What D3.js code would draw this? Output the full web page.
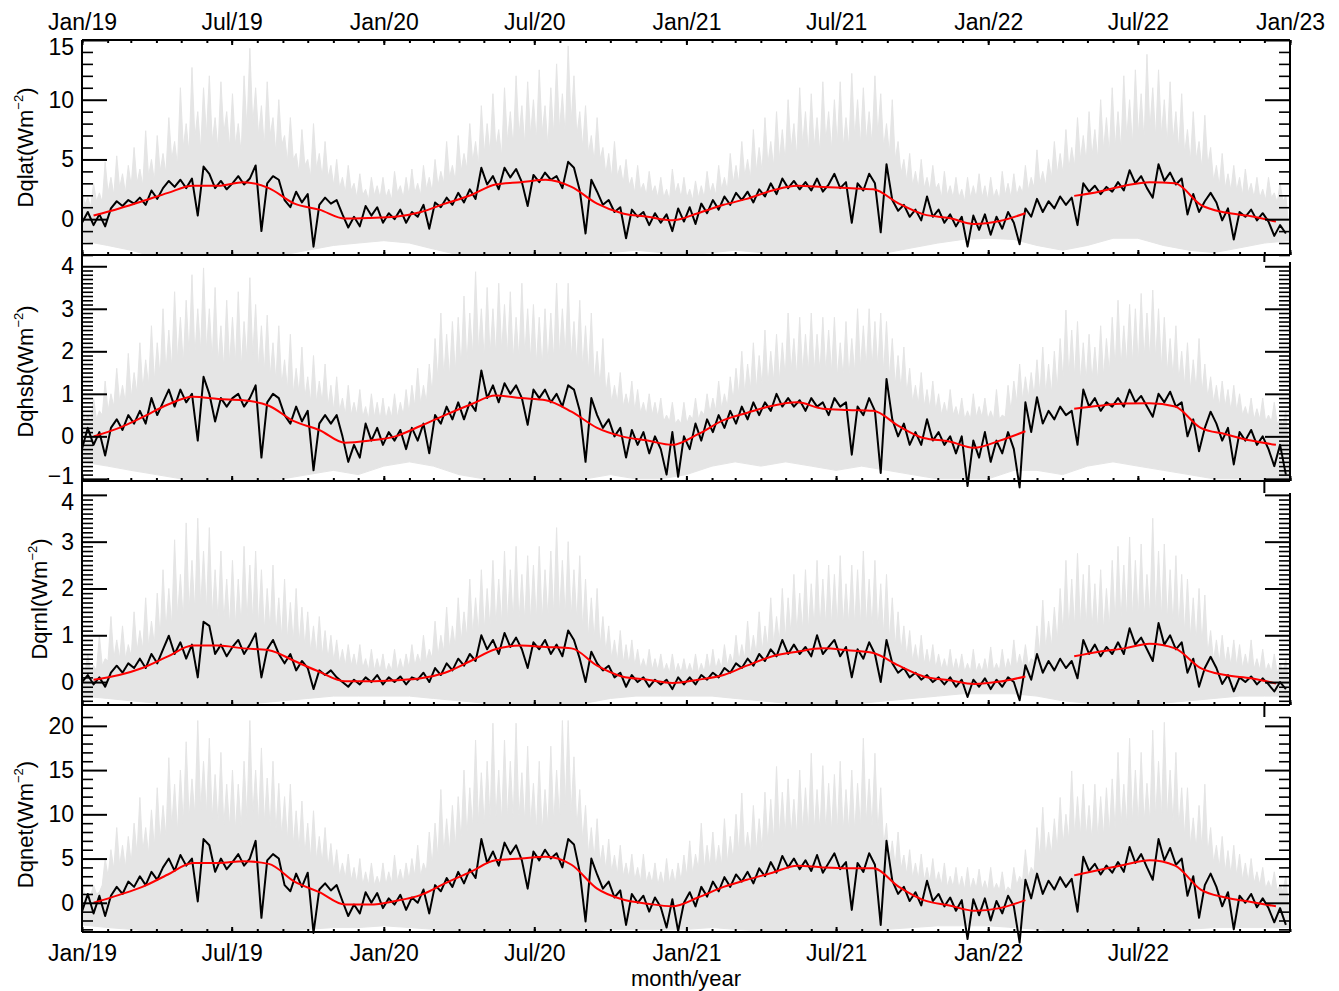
<!DOCTYPE html>
<html>
<head>
<meta charset="utf-8">
<script src="https://cdn.jsdelivr.net/npm/d3@7"></script>
<style>
  body { margin: 0; background: #fff; }
  text { font-family: "Liberation Sans", Arial, Helvetica, sans-serif; fill: #000; }
</style>
</head>
<body>
<div id="chart"></div>
<script>
// x tick labels (every six months)
const monthLabels = ['Jan/19', 'Jul/19', 'Jan/20', 'Jul/20', 'Jan/21', 'Jul/21', 'Jan/22', 'Jul/22', 'Jan/23'];

// ---- Dqlat ----
// weekly series (black), from 1 Jan 2019
const dqlatWeekly = [
  -0.3, 0.6, -0.5, 0.4, -0.6, 0.9, 1.5, 1.1, 1.6, 1.3,
  1.8, 1.2, 2.4, 1.7, 2.6, 3.2, 2.7, 3.3, 2.6, 3.4,
  0.3, 4.4, 3.8, 2.6, 3.2, 2.5, 3.0, 3.6, 2.9, 3.4,
  4.5, -1.0, 3.0, 3.6, 3.3, 1.6, 1.0, 2.3, 1.4, 2.1,
  -2.3, 1.2, 1.8, 1.3, 1.6, 0.4, -0.7, 0.2, -0.6, 1.1,
  0.3, 1.0, -0.3, 0.5, 0.0, 0.8, -0.3, 0.6, 0.2, 1.2,
  -0.8, 1.4, 1.0, 1.8, 1.2, 2.2, 1.4, 2.5, 1.7, 4.3,
  2.9, 3.6, 2.5, 4.3, 3.5, 4.2, 3.1, 1.1, 3.7, 3.1,
  3.9, 3.3, 3.6, 2.6, 4.8, 4.3, 2.4, -1.2, 3.3, 2.3,
  1.2, 1.6, 0.6, 1.0, -1.6, 0.8, 0.2, 0.6, -0.5, 0.5,
  -0.3, 0.4, -1.0, 0.9, -0.2, 1.0, -0.4, 1.3, 0.5, 1.6,
  0.8, 1.9, 1.2, 2.2, 1.6, 2.3, 1.4, 2.5, 1.9, 3.0,
  2.1, 3.4, 2.6, 3.2, 2.5, 3.1, 2.4, 3.4, 2.3, 2.9,
  3.8, 2.6, 3.1, -0.3, 3.0, 2.4, 3.8, 3.0, -1.1, 4.6,
  1.6, 0.7, 1.2, 0.2, 0.8, -0.1, 1.9, 0.2, 0.8, -0.3,
  0.4, -0.6, 0.2, -2.3, 0.3, -0.9, 0.4, -1.3, 0.2, -0.8,
  0.6, -0.3, -2.1, 0.9, 0.2, 1.7, 0.6, 1.5, 0.9, 1.9,
  1.2, 1.8, -0.5, 3.0, 2.3, 2.8, 2.1, 2.7, 2.3, 3.1,
  2.4, 4.1, 3.0, 3.6, 2.6, 1.8, 4.6, 3.2, 3.9, 2.9,
  3.4, 0.4, 2.1, 0.6, 1.5, 2.2, 1.4, -0.1, 0.9, -1.7,
  0.6, 0.2, 0.8, -0.1, 0.5, -0.2, -1.4, -0.5, -1.2
];
// running mean (red), mid-month, Jan 2019 - Dec 2022
const dqlatSmooth = [
  0.3, 0.9, 1.5, 2.2, 2.8, 2.8, 3.1, 2.6, 1.3, 0.8, 0.05, 0.1,
  0.2, 0.6, 1.3, 2.0, 2.9, 3.1, 3.3, 2.7, 1.3, 0.5, 0.2, -0.1,
  0.5, 1.2, 1.7, 2.4, 2.8, 2.7, 2.6, 2.5, 1.3, 0.4, 0.1, -0.4,
  -0.15, 0.5, null, 1.95, 2.3, 2.8, 3.1, 3.0, 1.2, 0.55, 0.25, -0.2
];
// spread of the raw data (gray): peaks at each week, troughs half a week later, monthly lower edge
const dqlatPeaks = [
  2.5, 1.8, 3.0, 2.2, 4.8, 3.5, 5.3, 3.8, 4.5, 6.0, 4.2, 7.4, 5.0,
  7.0, 5.5, 8.5, 6.5, 11.0, 8.0, 12.7, 9.0, 11.0, 12.0, 8.5, 11.5, 9.0,
  10.5, 8.0, 12.0, 14.3, 11.0, 9.5, 11.5, 8.5, 10.0, 7.0, 8.5, 5.5, 7.5,
  5.0, 8.0, 5.5, 6.5, 4.5, 5.0, 3.5, 4.5, 3.0, 3.8, 2.5, 3.5, 2.8,
  3.5, 2.5, 4.0, 2.8, 3.5, 4.2, 3.0, 4.5, 3.5, 5.0, 4.0, 6.5, 4.5,
  7.0, 5.5, 8.0, 6.5, 9.5, 8.0, 10.5, 7.5, 11.0, 9.0, 12.0, 9.5, 11.5,
  10.0, 12.5, 9.5, 11.0, 13.0, 10.5, 14.5, 12.0, 9.0, 9.5, 7.0, 8.5, 6.0,
  5.5, 6.5, 4.5, 5.0, 3.5, 4.5, 3.0, 4.0, 2.8, 3.5, 2.5, 4.2, 3.0,
  3.5, 2.5, 3.2, 2.8, 4.0, 3.0, 4.5, 3.5, 5.5, 4.5, 6.5, 5.0, 7.5,
  6.0, 8.5, 6.5, 9.0, 7.5, 10.0, 8.0, 11.0, 9.0, 10.5, 8.5, 11.5, 9.0,
  10.0, 11.5, 8.5, 12.2, 10.0, 11.0, 9.0, 12.0, 10.5, 8.0, 10.0, 6.5, 5.0,
  5.5, 4.0, 5.0, 3.5, 4.5, 3.0, 4.0, 2.8, 3.5, 2.5, 3.5, 2.8, 3.8,
  2.8, 3.5, 2.5, 4.0, 3.0, 3.8, 2.8, 4.5, 3.5, 5.8, 4.0, 5.0, 6.5,
  5.5, 7.5, 6.0, 8.5, 7.0, 9.0, 7.5, 10.0, 8.5, 11.0, 9.0, 12.0, 10.0,
  12.5, 10.5, 13.8, 11.0, 12.5, 10.0, 11.5, 9.0, 10.5, 7.5, 9.0, 6.5, 8.7,
  6.0, 4.5, 5.5, 3.8, 4.5, 3.5, 4.2, 3.0, 3.5, 2.5, 3.5, 2.2, 3.0, 2.0
];
const dqlatTroughs = [
  1.2, 1.0, 1.5, 1.4, 2.2, 2.0, 2.6, 2.2, 2.8, 3.0, 2.8, 3.6, 3.2,
  4.0, 3.8, 5.0, 4.5, 6.0, 5.5, 6.8, 5.8, 7.0, 6.5, 5.8, 7.2, 6.0,
  6.2, 5.5, 7.5, 8.0, 7.0, 6.0, 7.0, 5.5, 6.2, 4.8, 5.0, 3.8, 4.5,
  3.5, 4.2, 3.5, 3.5, 2.8, 2.6, 2.2, 2.4, 1.8, 2.0, 1.6, 2.0, 1.8,
  1.8, 1.6, 2.2, 1.8, 2.0, 2.2, 2.0, 2.5, 2.3, 2.8, 3.0, 3.5, 3.2,
  4.0, 4.2, 4.8, 4.5, 5.5, 5.5, 6.0, 5.2, 6.5, 6.0, 7.0, 6.2, 7.0,
  6.5, 7.2, 6.0, 7.0, 7.5, 7.0, 8.0, 7.0, 6.0, 5.5, 4.8, 5.0, 3.8,
  3.5, 3.6, 3.0, 2.8, 2.2, 2.4, 2.0, 2.2, 1.8, 1.8, 1.6, 2.2, 1.8,
  1.8, 1.6, 1.8, 1.8, 2.2, 2.0, 2.5, 2.4, 3.0, 3.0, 3.6, 3.4, 4.0,
  4.0, 4.6, 4.4, 5.0, 4.8, 5.8, 5.2, 6.2, 5.5, 6.0, 5.5, 6.5, 5.8,
  6.2, 6.0, 6.0, 6.8, 6.2, 6.5, 6.2, 7.0, 6.0, 5.5, 5.0, 3.8, 3.2,
  2.8, 2.6, 2.6, 2.4, 2.5, 1.8, 2.0, 1.8, 1.8, 1.5, 1.8, 1.8, 1.8,
  1.6, 1.8, 1.6, 2.0, 1.8, 2.0, 2.2, 2.4, 2.6, 3.0, 2.8, 3.4, 3.8,
  3.8, 4.2, 4.4, 5.0, 4.8, 5.2, 5.0, 5.8, 5.5, 6.0, 5.8, 6.8, 6.2,
  7.0, 6.5, 7.5, 6.8, 7.0, 6.2, 6.5, 5.8, 5.5, 4.8, 5.0, 4.2, 4.5,
  3.2, 2.8, 2.6, 2.4, 2.4, 2.0, 2.2, 1.8, 1.8, 1.6, 1.8, 1.4, 1.5
];
const dqlatLow = [
  -1.8, -2.2, -2.6, -3.2, -3.2, -3.2, -3.2, -3.2, -3.0, -2.6, -2.2, -2.0,
  -1.8, -2.0, -2.5, -3.0, -3.2, -3.2, -3.2, -3.2, -3.0, -2.8, -2.6, -2.8,
  -3.0, -2.8, -2.6, -2.8, -3.0, -3.2, -3.2, -3.2, -2.8, -2.4, -2.0, -1.7,
  -1.6, -1.7, -2.2, -2.6, -2.2, -1.6, -1.6, -2.2, -2.6, -2.8, -2.4, -2.0, -1.8
];

// ---- Dqhsb ----
const dqhsbWeekly = [
  -0.3, 0.2, -0.2, 0.1, -0.45, 0.2, 0.4, 0.15, 0.5, 0.3,
  0.6, 0.3, 0.9, 0.5, 0.8, 1.1, 0.7, 1.1, 0.8, 1.0,
  -0.1, 1.4, 1.0, 0.35, 0.9, 0.7, 0.9, 1.0, 0.7, 0.9,
  1.2, -0.5, 0.8, 1.0, 0.9, 0.5, 0.3, 0.7, 0.35, 0.6,
  -0.8, 0.3, 0.5, 0.3, 0.5, 0.0, -0.6, -0.2, -0.5, 0.3,
  -0.1, 0.2, -0.2, 0.1, -0.1, 0.15, -0.3, 0.2, -0.1, 0.3,
  -0.4, 0.5, 0.3, 0.7, 0.4, 0.8, 0.4, 0.8, 0.6, 1.55,
  0.9, 1.2, 0.8, 1.25, 1.0, 1.2, 0.9, 0.27, 1.1, 0.9,
  1.1, 0.8, 1.0, 0.7, 1.2, 1.1, 0.6, -0.6, 0.9, 0.5,
  0.2, 0.4, 0.0, 0.2, -0.5, 0.15, -0.2, 0.1, -0.4, 0.0,
  -0.3, -0.9, 0.1, -0.95, 0.0, -0.3, 0.3, -0.1, 0.4, 0.1,
  0.5, 0.2, 0.6, 0.3, 0.7, 0.4, 0.8, 0.5, 0.8, 0.6,
  1.0, 0.7, 0.9, 0.7, 0.85, 0.6, 0.9, 0.7, 0.8, 0.5,
  0.9, 0.7, 0.8, -0.43, 0.7, 0.5, 0.9, 0.6, -0.86, 1.35,
  0.4, 0.0, 0.3, -0.2, 0.1, -0.2, 0.4, -0.1, 0.1, -0.2,
  0.0, -0.4, 0.0, -1.17, -0.1, -0.5, 0.1, -0.6, -0.1, -0.4,
  0.1, -0.3, -1.2, 0.8, 0.1, 0.92, 0.3, 0.6, 0.4, 0.7,
  0.5, 0.6, -0.2, 1.1, 0.7, 0.9, 0.6, 0.8, 0.7, 0.9,
  0.7, 1.1, 0.8, 0.95, 0.7, 0.46, 1.0, 0.8, 1.05, 0.7,
  0.8, 0.0, 0.4, -0.35, 0.2, 0.58, 0.3, -0.1, 0.2, -0.66,
  0.1, -0.1, 0.15, -0.2, 0.0, -0.3, -0.7, -0.2, -0.9
];
const dqhsbSmooth = [
  0.0, 0.2, 0.45, 0.75, 0.93, 0.88, 0.85, 0.72, 0.35, 0.15, -0.15, -0.1,
  0.0, 0.25, 0.5, 0.75, 0.96, 0.9, 0.85, 0.58, 0.2, 0.0, -0.1, -0.2,
  0.05, 0.38, 0.55, 0.72, 0.8, 0.65, 0.62, 0.6, 0.24, -0.04, -0.12, -0.27,
  -0.1, 0.12, null, 0.65, 0.72, 0.77, 0.78, 0.7, 0.2, 0.05, -0.1, -0.2
];
const dqhsbPeaks = [
  0.7, 0.5, 0.9, 0.6, 1.3, 1.0, 1.6, 1.2, 1.95, 1.5, 2.2, 1.8, 2.6,
  2.2, 3.0, 2.5, 3.4, 2.8, 3.2, 3.8, 3.0, 3.96, 3.0, 3.5, 2.6, 3.2,
  2.8, 3.4, 2.7, 3.73, 3.1, 2.6, 2.85, 2.2, 2.6, 1.8, 2.4, 1.6, 2.1,
  1.4, 1.9, 1.3, 1.7, 1.2, 1.4, 0.9, 1.2, 0.8, 1.1, 0.7, 1.0, 0.8,
  0.9, 0.7, 1.0, 0.8, 1.1, 1.2, 1.6, 1.2, 1.7, 2.3, 2.9, 2.4, 2.7,
  2.8, 3.3, 2.9, 3.87, 3.0, 3.5, 3.0, 3.6, 3.1, 3.4, 2.8, 3.6, 3.0,
  3.1, 2.8, 3.0, 2.9, 3.6, 3.0, 3.6, 2.7, 3.2, 2.6, 2.9, 2.0, 2.3,
  1.5, 1.2, 1.5, 1.0, 1.3, 1.1, 0.8, 1.0, 0.8, 0.9, 0.5, 0.8, 0.4,
  0.8, 0.5, 0.9, 0.6, 1.0, 0.9, 1.3, 1.0, 1.4, 1.6, 2.0, 1.7, 2.2,
  1.9, 2.5, 2.0, 2.4, 2.2, 2.9, 2.3, 2.8, 2.4, 2.9, 2.4, 2.8, 2.5,
  2.8, 2.2, 2.7, 2.3, 3.0, 2.6, 3.0, 2.7, 2.9, 2.7, 2.3, 1.9, 2.1,
  1.6, 1.2, 1.5, 1.1, 1.3, 1.0, 0.8, 1.1, 0.7, 0.9, 0.6, 1.0, 0.7,
  0.9, 0.6, 1.1, 0.5, 1.2, 1.3, 1.7, 1.4, 1.5, 1.8, 2.1, 1.7, 2.0,
  2.3, 2.97, 2.5, 2.7, 2.2, 2.4, 2.1, 2.6, 2.3, 2.8, 3.2, 2.6, 3.1,
  3.0, 3.36, 2.9, 3.44, 3.0, 2.8, 2.3, 2.6, 2.0, 2.2, 1.8, 2.3, 1.7,
  1.4, 1.2, 1.3, 1.1, 1.2, 1.0, 0.7, 0.9, 0.65, 0.9, 0.5, 0.8, 0.4, 0.6
];
const dqhsbTroughs = [
  0.35, 0.35, 0.4, 0.5, 0.6, 0.7, 0.8, 0.8, 0.9, 1.0, 1.1, 1.2, 1.3,
  1.4, 1.5, 1.6, 1.8, 1.7, 1.9, 1.9, 2.0, 2.0, 1.8, 1.7, 1.6, 1.7,
  1.7, 1.6, 1.8, 1.9, 1.6, 1.5, 1.4, 1.3, 1.2, 1.1, 1.0, 1.0, 0.9,
  0.8, 0.8, 0.8, 0.7, 0.6, 0.6, 0.5, 0.5, 0.5, 0.45, 0.4, 0.45, 0.4,
  0.4, 0.45, 0.45, 0.5, 0.55, 0.7, 0.75, 0.8, 1.0, 1.3, 1.4, 1.4, 1.5,
  1.6, 1.7, 1.9, 2.0, 1.8, 1.9, 1.9, 2.0, 1.9, 1.8, 1.8, 1.9, 1.8,
  1.7, 1.6, 1.7, 1.8, 1.9, 1.9, 1.8, 1.7, 1.6, 1.5, 1.3, 1.2, 1.0,
  0.8, 0.8, 0.7, 0.7, 0.6, 0.55, 0.5, 0.5, 0.45, 0.35, 0.35, 0.3, 0.3,
  0.3, 0.4, 0.4, 0.5, 0.55, 0.6, 0.65, 0.7, 0.85, 0.95, 1.0, 1.1, 1.1,
  1.2, 1.2, 1.3, 1.3, 1.4, 1.5, 1.4, 1.5, 1.5, 1.5, 1.5, 1.5, 1.5,
  1.4, 1.4, 1.4, 1.5, 1.6, 1.6, 1.6, 1.6, 1.5, 1.4, 1.2, 1.1, 1.0,
  0.8, 0.75, 0.7, 0.65, 0.6, 0.5, 0.5, 0.5, 0.45, 0.4, 0.4, 0.45, 0.45,
  0.4, 0.4, 0.4, 0.45, 0.6, 0.8, 0.85, 0.9, 0.95, 1.0, 1.0, 1.0, 1.1,
  1.3, 1.4, 1.4, 1.3, 1.3, 1.3, 1.3, 1.4, 1.5, 1.6, 1.6, 1.7, 1.7,
  1.7, 1.8, 1.8, 1.8, 1.6, 1.5, 1.4, 1.3, 1.2, 1.1, 1.1, 1.0, 0.9,
  0.8, 0.7, 0.7, 0.6, 0.6, 0.5, 0.45, 0.4, 0.4, 0.35, 0.35, 0.3, 0.3
];
const dqhsbLow = [
  -0.6, -0.7, -0.8, -0.9, -1.0, -1.1, -1.1, -1.1, -1.0, -0.9, -0.8, -0.9,
  -0.7, -0.6, -0.7, -0.9, -1.0, -1.1, -1.1, -1.1, -1.0, -0.9, -1.0, -1.0,
  -0.9, -0.7, -0.6, -0.7, -0.6, -0.7, -0.8, -0.7, -0.8, -0.9, -1.0, -1.0,
  -1.0, -0.8, -0.8, -0.9, -0.7, -0.6, -0.7, -0.8, -0.9, -1.0, -1.0, -1.1, -1.0
];

// ---- Dqrnl ----
const dqrnlWeekly = [
  0.0, 0.15, -0.05, 0.1, -0.1, 0.2, 0.35, 0.2, 0.4, 0.3,
  0.5, 0.3, 0.6, 0.4, 0.7, 0.99, 0.6, 0.85, 0.5, 0.8,
  0.1, 1.29, 1.2, 0.6, 0.8, 0.55, 0.75, 0.9, 0.6, 0.8,
  1.04, 0.1, 0.7, 0.9, 0.6, 0.4, 0.6, 0.25, 0.45, 0.3,
  -0.15, 0.25, 0.15, 0.25, 0.1, 0.0, -0.1, 0.05, -0.05, 0.1,
  0.0, 0.15, -0.05, 0.1, 0.0, 0.12, -0.05, 0.1, 0.05, 0.2,
  0.0, 0.3, 0.15, 0.4, 0.25, 0.5, 0.35, 0.6, 0.45, 1.0,
  0.7, 0.9, 0.6, 1.05, 0.75, 0.95, 0.7, 0.3, 0.85, 0.7,
  0.9, 0.6, 0.8, 0.55, 1.1, 0.9, 0.5, 0.0, 0.65, 0.4,
  0.25, 0.35, 0.1, 0.2, -0.1, 0.15, 0.0, 0.1, -0.1, 0.05,
  -0.05, 0.05, -0.15, 0.1, -0.05, 0.1, -0.05, 0.15, 0.05, 0.2,
  0.1, 0.3, 0.2, 0.4, 0.3, 0.5, 0.35, 0.6, 0.45, 0.7,
  0.55, 0.9, 0.6, 0.8, 0.6, 0.75, 0.55, 1.0, 0.6, 0.75,
  0.9, 0.55, 0.75, 0.1, 0.7, 0.5, 0.85, 0.6, 0.0, 0.9,
  0.4, 0.2, 0.3, 0.1, 0.2, 0.05, 0.15, 0.0, 0.1, -0.05,
  0.1, -0.1, 0.05, -0.32, 0.05, -0.1, 0.08, -0.15, 0.05, -0.1,
  0.1, 0.0, -0.39, 0.36, 0.05, 0.6, 0.2, 0.45, 0.25, 0.5,
  0.3, 0.45, 0.08, 0.9, 0.6, 0.8, 0.55, 0.75, 0.6, 0.85,
  0.6, 1.15, 0.8, 0.95, 0.7, 0.45, 1.26, 0.8, 1.0, 0.7,
  0.85, 0.2, 0.5, -0.1, 0.3, 0.54, 0.3, -0.04, 0.15, -0.2,
  0.1, 0.0, 0.12, -0.05, 0.08, -0.05, -0.2, 0.0, -0.15
];
const dqrnlSmooth = [
  0.05, 0.15, 0.3, 0.55, 0.78, 0.78, 0.72, 0.68, 0.45, 0.22, 0.02, 0.02,
  0.04, 0.08, 0.2, 0.45, 0.7, 0.78, 0.75, 0.72, 0.35, 0.12, 0.05, -0.02,
  0.05, 0.15, 0.35, 0.55, 0.65, 0.72, 0.68, 0.62, 0.35, 0.12, 0.04, -0.04,
  0.01, 0.12, null, 0.55, 0.65, 0.72, 0.82, 0.72, 0.3, 0.15, 0.08, -0.03
];
const dqrnlPeaks = [
  0.4, 0.6, 0.35, 1.0, 0.5, 1.4, 0.9, 1.2, 0.8, 1.5, 1.1, 1.8, 1.3,
  1.9, 2.4, 2.0, 3.04, 2.3, 3.4, 2.6, 3.5, 2.8, 3.3, 2.4, 2.8, 2.2,
  2.6, 2.2, 2.9, 2.5, 2.8, 2.4, 2.0, 2.5, 1.8, 2.2, 1.7, 2.0, 1.6,
  1.5, 1.2, 1.4, 1.1, 1.0, 0.9, 0.7, 0.8, 0.6, 0.8, 0.5, 0.7, 0.5,
  0.6, 0.4, 0.7, 0.5, 0.6, 0.8, 0.6, 1.0, 0.7, 1.3, 1.0, 1.6, 1.2,
  1.8, 1.5, 2.2, 1.8, 2.4, 2.0, 2.6, 2.2, 2.8, 2.4, 2.9, 2.3, 2.7,
  2.5, 2.9, 2.4, 2.8, 3.3, 2.6, 3.0, 2.4, 2.7, 2.2, 1.8, 2.0, 1.4,
  1.2, 0.9, 1.1, 0.8, 0.9, 0.7, 0.5, 0.7, 0.5, 0.6, 0.4, 0.6, 0.4,
  0.5, 0.4, 0.6, 0.4, 0.6, 0.7, 0.5, 0.8, 0.6, 1.0, 0.8, 1.3, 1.0,
  1.5, 1.2, 1.8, 1.4, 2.0, 1.8, 2.3, 1.9, 2.4, 2.1, 2.6, 2.2, 2.5,
  2.3, 2.7, 2.1, 2.5, 2.4, 2.8, 2.2, 2.6, 2.1, 2.3, 1.8, 1.5, 1.2,
  1.1, 0.8, 1.0, 0.7, 0.8, 0.6, 0.5, 0.7, 0.5, 0.6, 0.4, 0.7, 0.4,
  0.5, 0.75, 0.4, 0.7, 0.5, 0.9, 0.6, 0.8, 0.5, 1.2, 1.75, 1.3, 1.6,
  2.0, 2.6, 2.2, 2.75, 2.3, 2.5, 2.1, 2.4, 2.0, 2.6, 2.9, 2.5, 3.1,
  2.6, 2.95, 2.3, 3.5, 2.8, 2.95, 2.4, 2.7, 2.3, 2.2, 1.8, 2.0, 1.86,
  1.1, 0.9, 1.0, 0.75, 0.9, 0.8, 0.6, 0.9, 0.5, 0.7, 0.4, 0.6, 0.4, 0.5
];
const dqrnlTroughs = [
  0.2, 0.2, 0.25, 0.35, 0.45, 0.5, 0.5, 0.5, 0.55, 0.65, 0.7, 0.75, 0.8,
  0.95, 1.1, 1.2, 1.4, 1.3, 1.5, 1.5, 1.6, 1.5, 1.4, 1.3, 1.3, 1.2,
  1.2, 1.2, 1.3, 1.3, 1.2, 1.1, 1.1, 1.0, 0.95, 0.9, 0.85, 0.8, 0.75,
  0.65, 0.6, 0.55, 0.5, 0.45, 0.4, 0.35, 0.35, 0.3, 0.3, 0.25, 0.25, 0.25,
  0.2, 0.25, 0.25, 0.25, 0.3, 0.35, 0.4, 0.45, 0.5, 0.55, 0.65, 0.7, 0.75,
  0.85, 0.95, 1.0, 1.05, 1.1, 1.15, 1.2, 1.25, 1.3, 1.3, 1.3, 1.3, 1.3,
  1.3, 1.3, 1.35, 1.4, 1.45, 1.4, 1.35, 1.3, 1.1, 0.95, 0.9, 0.75, 0.65,
  0.5, 0.45, 0.4, 0.38, 0.35, 0.3, 0.28, 0.26, 0.25, 0.22, 0.2, 0.2, 0.2,
  0.2, 0.2, 0.2, 0.22, 0.25, 0.28, 0.3, 0.35, 0.4, 0.45, 0.5, 0.55, 0.6,
  0.65, 0.75, 0.8, 0.85, 0.9, 1.0, 1.05, 1.1, 1.1, 1.15, 1.15, 1.2, 1.2,
  1.2, 1.2, 1.2, 1.2, 1.2, 1.2, 1.15, 1.1, 1.0, 0.9, 0.75, 0.65, 0.55,
  0.45, 0.4, 0.38, 0.35, 0.3, 0.28, 0.26, 0.25, 0.24, 0.22, 0.22, 0.22, 0.22,
  0.22, 0.24, 0.24, 0.26, 0.3, 0.32, 0.34, 0.36, 0.45, 0.6, 0.7, 0.75, 0.85,
  1.0, 1.1, 1.15, 1.2, 1.15, 1.1, 1.1, 1.1, 1.15, 1.25, 1.3, 1.35, 1.35,
  1.35, 1.35, 1.4, 1.4, 1.35, 1.3, 1.2, 1.15, 1.05, 0.95, 0.85, 0.8, 0.6,
  0.45, 0.42, 0.4, 0.36, 0.34, 0.3, 0.3, 0.28, 0.26, 0.22, 0.22, 0.2, 0.2
];
const dqrnlLow = [
  -0.3, -0.35, -0.4, -0.45, -0.5, -0.5, -0.5, -0.45, -0.4, -0.35, -0.3, -0.3,
  -0.3, -0.3, -0.35, -0.4, -0.45, -0.5, -0.5, -0.5, -0.45, -0.35, -0.3, -0.3,
  -0.3, -0.3, -0.35, -0.4, -0.45, -0.5, -0.5, -0.45, -0.4, -0.35, -0.3, -0.25,
  -0.25, -0.25, -0.3, -0.4, -0.45, -0.5, -0.5, -0.45, -0.4, -0.35, -0.3, -0.3, -0.3
];

// ---- Dqnet ----
const dqnetWeekly = [
  -1.0, 1.0, -1.2, 0.8, -1.5, 0.8, 1.8, 1.0, 2.4, 1.8,
  3.0, 2.0, 3.5, 2.6, 4.0, 5.0, 3.6, 5.4, 4.2, 5.0,
  0.15, 7.2, 6.5, 3.5, 5.0, 3.8, 4.6, 5.5, 4.2, 5.0,
  7.0, -1.7, 4.8, 5.5, 5.0, 2.0, 1.3, 3.3, 1.8, 3.4,
  -3.4, 1.5, 2.2, 1.4, 2.0, 0.2, -1.5, -0.2, -1.2, 1.2,
  0.0, 1.1, -0.6, 0.5, -0.2, 0.9, -0.8, 0.6, 0.0, 1.5,
  -1.2, 2.0, 1.3, 2.8, 1.8, 3.5, 2.2, 3.8, 2.8, 7.2,
  4.5, 5.8, 4.2, 6.8, 5.5, 6.5, 4.8, 1.6, 5.8, 4.8,
  6.0, 5.0, 5.6, 4.0, 7.2, 6.6, 3.5, -2.1, 5.0, 3.2,
  1.6, 2.4, 0.6, 1.4, -2.5, 1.0, 0.0, 0.8, -1.0, 0.6,
  -0.5, -2.8, 0.4, -3.2, 0.0, 1.2, -0.4, 1.8, 0.7, 2.4,
  1.3, 2.9, 1.8, 3.2, 2.4, 3.5, 2.2, 3.9, 3.0, 4.6,
  3.4, 5.3, 4.0, 5.0, 3.8, 4.8, 3.6, 5.4, 3.4, 4.5,
  5.6, 3.8, 4.6, -0.8, 4.5, 3.5, 5.6, 4.3, -2.5, 7.0,
  2.5, 1.0, 1.8, 0.2, 1.2, -0.3, 2.5, 0.2, 1.0, -0.4,
  0.6, -0.9, 0.3, -4.1, 0.4, -1.4, 0.5, -2.0, 0.2, -1.2,
  0.8, -0.4, -4.5, 2.6, 0.5, 3.3, 1.0, 2.5, 1.5, 2.9,
  1.8, 2.7, -1.0, 5.2, 3.6, 4.4, 3.2, 4.2, 3.4, 4.6,
  3.5, 6.3, 4.5, 5.5, 4.0, 2.6, 7.2, 4.8, 6.2, 4.3,
  5.0, 0.8, 3.0, -1.7, 2.0, 3.3, 1.8, -0.4, 1.2, -3.0,
  0.8, 0.0, 1.0, -0.5, 0.5, -0.6, -2.2, -0.6, -2.5
];
const dqnetSmooth = [
  0.0, 0.9, 1.8, 3.2, 4.5, 4.5, 4.7, 4.4, 2.4, 1.2, -0.2, -0.2,
  0.2, 0.9, 2.2, 3.5, 4.8, 5.0, 5.2, 4.3, 1.6, 0.4, -0.1, -0.4,
  0.6, 1.8, 2.6, 3.4, 4.2, 4.0, 3.9, 3.9, 1.8, 0.3, -0.3, -0.9,
  -0.6, 0.3, null, 3.1, 3.7, 4.3, 4.8, 4.2, 1.5, 0.6, 0.1, -0.4
];
const dqnetPeaks = [
  2.5, 1.0, 2.0, 1.2, 5.0, 6.0, 8.5, 6.5, 7.5, 9.0, 11.9, 8.5, 10.5,
  13.0, 11.0, 16.4, 13.4, 15.0, 18.2, 14.0, 20.6, 16.0, 18.6, 14.5, 17.0, 13.4,
  15.0, 13.4, 16.0, 20.6, 15.0, 17.5, 14.1, 16.0, 13.5, 12.0, 13.4, 10.4, 11.5,
  9.0, 10.4, 7.5, 8.5, 6.7, 6.0, 4.5, 5.5, 4.0, 5.0, 3.5, 4.5, 3.0,
  4.5, 3.5, 5.4, 3.8, 4.5, 5.0, 6.5, 4.5, 8.0, 9.0, 12.8, 9.5, 11.0,
  12.0, 15.0, 13.0, 18.4, 14.7, 16.0, 20.3, 15.0, 18.4, 16.0, 20.3, 14.7, 17.7,
  13.5, 16.0, 12.8, 17.7, 15.0, 20.6, 20.6, 16.5, 12.8, 11.0, 8.5, 9.5, 6.5,
  7.2, 5.4, 6.5, 4.5, 5.5, 4.0, 5.5, 3.5, 4.5, 3.5, 5.0, 3.8, 4.5,
  5.4, 7.0, 5.5, 9.0, 6.5, 8.0, 6.5, 9.5, 7.5, 10.0, 12.4, 8.0, 11.0,
  9.5, 12.5, 11.7, 15.4, 12.5, 14.0, 11.7, 15.0, 13.0, 16.9, 12.8, 15.5, 13.5,
  14.5, 16.0, 12.8, 15.0, 13.5, 18.6, 14.0, 16.9, 13.0, 9.0, 7.0, 8.0, 5.4,
  6.0, 4.5, 5.5, 4.0, 5.0, 3.5, 4.5, 3.0, 4.0, 3.0, 4.0, 2.8, 3.8,
  2.5, 4.0, 2.2, 3.5, 1.8, 4.0, 3.0, 6.0, 4.0, 8.5, 10.8, 8.0, 9.5,
  11.9, 10.0, 14.9, 12.0, 13.4, 11.0, 13.4, 12.0, 13.0, 14.0, 17.0, 13.4, 18.6,
  15.0, 17.0, 13.5, 19.5, 16.0, 20.4, 15.0, 17.0, 13.0, 13.0, 9.6, 11.0, 13.4,
  8.5, 6.5, 7.5, 5.9, 6.5, 5.5, 4.5, 5.0, 3.5, 4.0, 2.5, 3.5, 2.0, 3.0
];
const dqnetTroughs = [
  0.8, 0.8, 1.0, 2.0, 3.0, 3.8, 4.2, 4.0, 4.5, 5.5, 5.8, 5.5, 6.2,
  7.0, 7.5, 8.5, 8.0, 9.0, 9.5, 9.8, 10.5, 10.0, 9.5, 9.0, 8.8, 8.5,
  8.2, 8.5, 9.5, 10.0, 9.0, 9.0, 8.5, 8.0, 7.5, 7.0, 6.5, 6.0, 5.5,
  5.0, 4.8, 4.5, 4.0, 3.5, 3.0, 2.8, 2.5, 2.2, 2.0, 2.0, 2.0, 2.0,
  2.0, 2.2, 2.4, 2.3, 2.6, 3.0, 3.0, 3.5, 4.2, 5.0, 5.5, 5.8, 6.2,
  7.0, 7.5, 8.5, 9.0, 8.8, 9.5, 9.5, 9.2, 9.5, 9.5, 9.5, 9.0, 8.8,
  8.0, 8.0, 8.5, 9.0, 9.5, 11.0, 10.0, 8.5, 7.0, 5.5, 5.0, 4.5, 3.8,
  3.5, 3.2, 3.0, 2.8, 2.6, 2.4, 2.3, 2.2, 2.0, 2.0, 2.2, 2.2, 2.5,
  3.0, 3.2, 3.8, 3.8, 4.0, 4.0, 4.2, 4.5, 4.8, 5.5, 5.5, 5.5, 5.8,
  6.0, 6.5, 7.0, 7.5, 7.5, 7.5, 7.5, 8.0, 8.0, 8.0, 8.0, 8.0, 8.0,
  8.0, 8.0, 8.0, 8.0, 8.5, 9.0, 8.5, 8.0, 6.5, 4.5, 4.2, 3.8, 3.2,
  2.8, 2.7, 2.5, 2.4, 2.2, 2.0, 1.8, 1.8, 1.6, 1.5, 1.5, 1.6, 1.5,
  1.4, 1.4, 1.4, 1.2, 1.4, 2.0, 2.4, 2.8, 3.5, 5.0, 5.2, 5.5, 6.0,
  6.5, 7.0, 7.5, 7.5, 7.5, 7.0, 7.2, 7.5, 7.8, 8.2, 8.5, 8.8, 9.0,
  9.0, 9.0, 9.2, 9.5, 9.5, 9.5, 9.0, 8.5, 7.5, 6.5, 6.0, 6.0, 5.5,
  4.5, 4.0, 3.5, 3.2, 3.0, 2.6, 2.4, 2.2, 2.0, 1.6, 1.6, 1.4, 1.4
];
const dqnetLow = [
  -2.5, -2.8, -3.0, -3.3, -3.3, -3.3, -3.3, -3.3, -3.3, -3.0, -2.8, -2.8,
  -2.6, -2.8, -3.0, -3.3, -3.3, -3.3, -3.3, -3.3, -3.3, -3.0, -3.0, -3.0,
  -3.0, -2.8, -3.0, -3.2, -3.3, -3.3, -3.3, -3.3, -3.0, -2.8, -2.6, -2.6,
  -2.6, -2.8, -3.0, -3.3, -3.3, -3.3, -3.3, -3.3, -3.0, -2.8, -2.8, -2.8, -2.8
];

// time grids
const t0 = Date.UTC(2019, 0, 1);
const weekDates = d3.range(dqlatWeekly.length).map(i => d3.utcDay.offset(new Date(t0), 7 * i));
const midWeekDates = weekDates.slice(0, -1).map(d => d3.utcHour.offset(d, 84));
const midMonths = d3.range(48).map(k => new Date(Date.UTC(2019, k, 15)));
const monthStarts = d3.range(49).map(k => new Date(Date.UTC(2019, k, 1)));
const halfYears = d3.range(9).map(k => new Date(Date.UTC(2019, 6 * k, 1)));

const width = 1339, height = 991;
const left = 82, right = 1290;
const grayColor = '#e5e5e5';

const panels = [
  { label: 'Dqlat', weekly: dqlatWeekly, smooth: dqlatSmooth, peaks: dqlatPeaks, troughs: dqlatTroughs, lo: dqlatLow,
    domain: [-3, 15], top: 40, frameTop: 40, bottom: 255, majorStep: 5, minorStep: 1, titleX: 33 },
  { label: 'Dqhsb', weekly: dqhsbWeekly, smooth: dqhsbSmooth, peaks: dqhsbPeaks, troughs: dqhsbTroughs, lo: dqhsbLow,
    domain: [-1.05, 4.1], top: 262, frameTop: 255, bottom: 481, majorStep: 1, minorStep: 0.1, titleX: 33 },
  { label: 'Dqrnl', weekly: dqrnlWeekly, smooth: dqrnlSmooth, peaks: dqrnlPeaks, troughs: dqrnlTroughs, lo: dqrnlLow,
    domain: [-0.49, 4.04], top: 493, frameTop: 481, bottom: 705, majorStep: 1, minorStep: 0.1, titleX: 47 },
  { label: 'Dqnet', weekly: dqnetWeekly, smooth: dqnetSmooth, peaks: dqnetPeaks, troughs: dqnetTroughs, lo: dqnetLow,
    domain: [-3.3, 21], top: 717, frameTop: 705, bottom: 932, majorStep: 5, minorStep: 1, titleX: 33 }
];

const svg = d3.select('#chart').append('svg')
  .attr('width', width)
  .attr('height', height);

const x = d3.scaleUtc().domain([new Date(t0), new Date(Date.UTC(2023, 0, 1))]).range([left, right]);

const fmtY = d => d < 0 ? '\u2212' + Math.abs(d) : String(d);

function styleAxis(g, w) {
  g.select('.domain').remove();
  g.selectAll('.tick line').attr('stroke', '#000').attr('stroke-width', w);
  g.selectAll('.tick text').attr('font-size', 23).attr('font-family', '"Liberation Sans", Arial, sans-serif');
  g.attr('font-family', null).attr('font-size', null);
}

panels.forEach((p, pi) => {
  const y = d3.scaleLinear().domain(p.domain).range([p.bottom, p.top]);

  // clip for the raw data
  svg.append('clipPath').attr('id', 'clip' + pi)
    .append('rect').attr('x', left).attr('y', p.top).attr('width', right - left).attr('height', p.bottom - p.top);

  // gray spread: weekly peaks with the troughs between them, monthly lower edge
  const upper = [];
  p.peaks.forEach((v, i) => {
    upper.push([x(weekDates[i]), y(v)]);
    if (i < p.troughs.length) upper.push([x(midWeekDates[i]), y(p.troughs[i])]);
  });
  const poly = upper.concat(p.lo.map((v, i) => [x(monthStarts[i]), y(v)]).reverse());
  svg.append('path')
    .attr('clip-path', 'url(#clip' + pi + ')')
    .attr('d', d3.line()(poly) + 'Z')
    .attr('fill', grayColor)
    .attr('stroke', grayColor)
    .attr('stroke-width', 1);

  // black weekly line
  svg.append('path')
    .datum(p.weekly.map((v, i) => ({ date: weekDates[i], v })))
    .attr('fill', 'none')
    .attr('stroke', '#000')
    .attr('stroke-width', 2)
    .attr('stroke-linejoin', 'round')
    .attr('d', d3.line().x(d => x(d.date)).y(d => y(d.v)));

  // red smoothed line
  svg.append('path')
    .datum(p.smooth.map((v, i) => ({ date: midMonths[i], v })))
    .attr('fill', 'none')
    .attr('stroke', '#ff0000')
    .attr('stroke-width', 2)
    .attr('d', d3.line().defined(d => d.v != null).curve(d3.curveMonotoneX).x(d => x(d.date)).y(d => y(d.v)));

  // y ticks
  const lo = p.domain[0], hi = p.domain[1];
  const majors = d3.range(Math.ceil(lo / p.majorStep), Math.floor(hi / p.majorStep) + 1).map(i => i * p.majorStep);
  const minors = d3.range(Math.ceil(lo / p.minorStep), Math.floor(hi / p.minorStep) + 1)
    .map(i => +(i * p.minorStep).toFixed(3))
    .filter(v => Math.abs(v / p.majorStep - Math.round(v / p.majorStep)) > 1e-6);

  svg.append('g').attr('transform', `translate(${left},0)`)
    .call(d3.axisLeft(y).tickValues(minors).tickSize(-11).tickSizeOuter(0).tickFormat(''))
    .call(g => styleAxis(g, 1.6));
  svg.append('g').attr('transform', `translate(${left},0)`)
    .call(d3.axisLeft(y).tickValues(majors).tickSize(-25).tickSizeOuter(0).tickPadding(8).tickFormat(fmtY))
    .call(g => styleAxis(g, 2))
    .call(g => g.selectAll('.tick text')
      // keep labels at the panel edges clear of their neighbours
      .attr('y', d => y(d) - p.top < 4 ? 7 : (p.bottom - y(d) < 4 ? -3 : 0)));
  svg.append('g').attr('transform', `translate(${right},0)`)
    .call(d3.axisRight(y).tickValues(minors).tickSize(-11).tickSizeOuter(0).tickFormat(''))
    .call(g => styleAxis(g, 1.6));
  svg.append('g').attr('transform', `translate(${right},0)`)
    .call(d3.axisRight(y).tickValues(majors).tickSize(-25).tickSizeOuter(0).tickFormat(''))
    .call(g => styleAxis(g, 2));

  // x ticks on the bottom edge (pointing up)
  svg.append('g').attr('transform', `translate(0,${p.bottom})`)
    .call(d3.axisBottom(x).tickValues(monthStarts).tickSize(-3).tickSizeOuter(0).tickFormat(''))
    .call(g => styleAxis(g, 2));
  const bottomAxis = d3.axisBottom(x).tickSize(-5).tickSizeOuter(0);
  if (pi === panels.length - 1) {
    bottomAxis.tickValues(halfYears.slice(0, 8)).tickPadding(13).tickFormat((d, i) => monthLabels[i]);
  } else {
    bottomAxis.tickValues(halfYears).tickFormat('');
  }
  svg.append('g').attr('transform', `translate(0,${p.bottom})`)
    .call(bottomAxis)
    .call(g => styleAxis(g, 2));

  // top x axis with labels on the first panel
  if (pi === 0) {
    svg.append('g').attr('transform', `translate(0,${p.top})`)
      .call(d3.axisTop(x).tickValues(monthStarts).tickSize(-3).tickSizeOuter(0).tickFormat(''))
      .call(g => styleAxis(g, 2));
    svg.append('g').attr('transform', `translate(0,${p.top})`)
      .call(d3.axisTop(x).tickValues(halfYears).tickSize(-5).tickSizeOuter(0).tickPadding(10).tickFormat((d, i) => monthLabels[i]))
      .call(g => styleAxis(g, 2));
  } else {
    // short mark in the gap between panels
    const xm = x(new Date(Date.UTC(2022, 11, 1)));
    svg.append('line').attr('x1', xm).attr('x2', xm).attr('y1', p.frameTop).attr('y2', p.top)
      .attr('stroke', '#000').attr('stroke-width', 2);
  }

  // frame
  const frame = svg.append('g').attr('stroke', '#000').attr('stroke-width', 2).attr('fill', 'none');
  frame.append('line').attr('x1', left).attr('x2', left).attr('y1', p.frameTop).attr('y2', p.bottom);
  frame.append('line').attr('x1', right).attr('x2', right).attr('y1', p.top).attr('y2', p.bottom);
  frame.append('line').attr('x1', left).attr('x2', right).attr('y1', p.bottom).attr('y2', p.bottom);
  if (pi === 0) {
    frame.append('line').attr('x1', left).attr('x2', right).attr('y1', p.top).attr('y2', p.top);
  }

  // y title
  const title = svg.append('text')
    .attr('transform', `translate(${p.titleX},${(p.top + p.bottom) / 2}) rotate(-90)`)
    .attr('text-anchor', 'middle')
    .attr('font-size', 22);
  title.append('tspan').text(p.label + '(Wm');
  title.append('tspan').attr('font-size', 13).attr('dy', -10).text('\u22122');
  title.append('tspan').attr('dy', 10).text(')');
});

svg.append('text')
  .attr('x', (left + right) / 2)
  .attr('y', 986)
  .attr('text-anchor', 'middle')
  .attr('font-size', 22)
  .text('month/year');
</script>
</body>
</html>
